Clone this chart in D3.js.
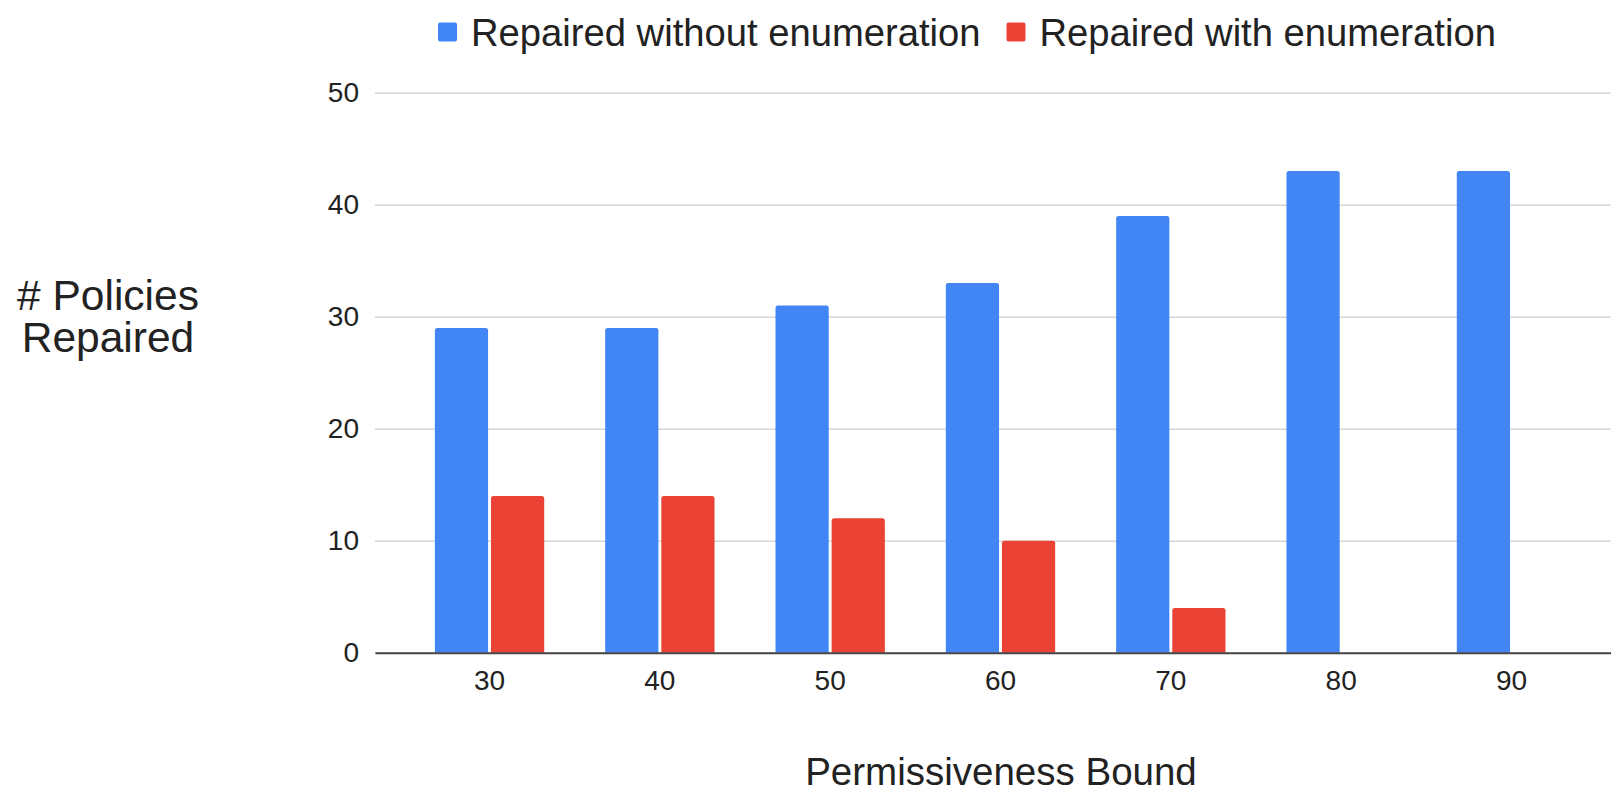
<!DOCTYPE html>
<html>
<head>
<meta charset="utf-8">
<script src="https://cdn.jsdelivr.net/npm/d3@7"></script>
<style>
  html, body { margin: 0; padding: 0; background: #fff; }
  svg { display: block; font-family: "Liberation Sans", Arial, Helvetica, sans-serif; }
</style>
</head>
<body>
<svg id="chart" width="1611" height="793"></svg>
<script>
// Permissiveness bounds (x categories)
const bounds = ["30", "40", "50", "60", "70", "80", "90"];
// Number of policies repaired per bound
const withoutEnum = [29, 29, 31, 33, 39, 43, 43];
const withEnum = [14, 14, 12, 10, 4, 0, 0];
const seriesNames = ["Repaired without enumeration", "Repaired with enumeration"];
const seriesColors = ["#4285F4", "#EA4335"];
const yTicks = [0, 10, 20, 30, 40, 50];

const plot = { left: 375, right: 1626, top: 92.7, bottom: 652.7 };

const svg = d3.select("#chart");

const x = d3.scaleBand()
  .domain(bounds)
  .range([plot.left, plot.right])
  .paddingInner(0.358)
  .paddingOuter(0.3515);

const xs = d3.scaleBand()
  .domain([0, 1])
  .range([0, x.bandwidth()])
  .paddingInner(0.052);

const y = d3.scaleLinear()
  .domain([0, 50])
  .range([plot.bottom, plot.top]);

// Horizontal gridlines with y tick labels
const yAxis = svg.append("g")
  .attr("transform", `translate(${plot.left},0)`)
  .call(d3.axisLeft(y).tickValues(yTicks).tickSize(-(plot.right - plot.left)).tickPadding(16));
yAxis.select(".domain").remove();
yAxis.selectAll(".tick line").attr("stroke", "#d6d6d6").attr("stroke-width", 1.6);
yAxis.selectAll(".tick text")
  .attr("fill", "#222").attr("font-size", 28)
  .attr("font-family", "'Liberation Sans', Arial, sans-serif");

// Bars with softly rounded top corners
function barPath(x0, w, yTop, yBase, r) {
  const h = yBase - yTop;
  if (h <= 0) return "";
  r = Math.min(r, h, w / 2);
  return `M${x0},${yBase}V${yTop + r}Q${x0},${yTop} ${x0 + r},${yTop}` +
         `H${x0 + w - r}Q${x0 + w},${yTop} ${x0 + w},${yTop + r}V${yBase}Z`;
}

const seriesData = [withoutEnum, withEnum];
const groups = svg.append("g").selectAll("g")
  .data(bounds)
  .join("g")
  .attr("transform", d => `translate(${x(d)},0)`);

groups.selectAll("path")
  .data((d, i) => seriesData.map((s, k) => ({ k, v: s[i] })))
  .join("path")
  .attr("d", d => barPath(xs(d.k), xs.bandwidth(), y(d.v), y(0), 2.5))
  .attr("fill", d => seriesColors[d.k]);

// X axis baseline and category labels
const xAxis = svg.append("g")
  .attr("transform", `translate(0,${plot.bottom})`)
  .call(d3.axisBottom(x).tickSize(0).tickSizeOuter(0).tickPadding(17.5));
xAxis.select(".domain").attr("stroke", "#444").attr("stroke-width", 2);
xAxis.selectAll(".tick text")
  .attr("fill", "#222").attr("font-size", 28)
  .attr("font-family", "'Liberation Sans', Arial, sans-serif");

// Axis titles
svg.append("text")
  .attr("x", 1001).attr("y", 785)
  .attr("text-anchor", "middle")
  .attr("font-size", 38.5).attr("fill", "#222")
  .text("Permissiveness Bound");

const yTitle = svg.append("text")
  .attr("text-anchor", "middle")
  .attr("font-size", 42.5).attr("fill", "#222");
yTitle.append("tspan").attr("x", 108).attr("y", 310).text("# Policies");
yTitle.append("tspan").attr("x", 108).attr("y", 352).text("Repaired");

// Legend
const legend = svg.append("g");
let lx = 438;
seriesNames.forEach((name, i) => {
  legend.append("rect")
    .attr("x", lx).attr("y", 22.5).attr("width", 19).attr("height", 19)
    .attr("rx", 2).attr("fill", seriesColors[i]);
  const t = legend.append("text")
    .attr("x", lx + 33).attr("y", 46)
    .attr("font-size", 38.2).attr("fill", "#222")
    .text(name);
  lx += 33 + t.node().getComputedTextLength() + 26;
});
</script>
</body>
</html>
